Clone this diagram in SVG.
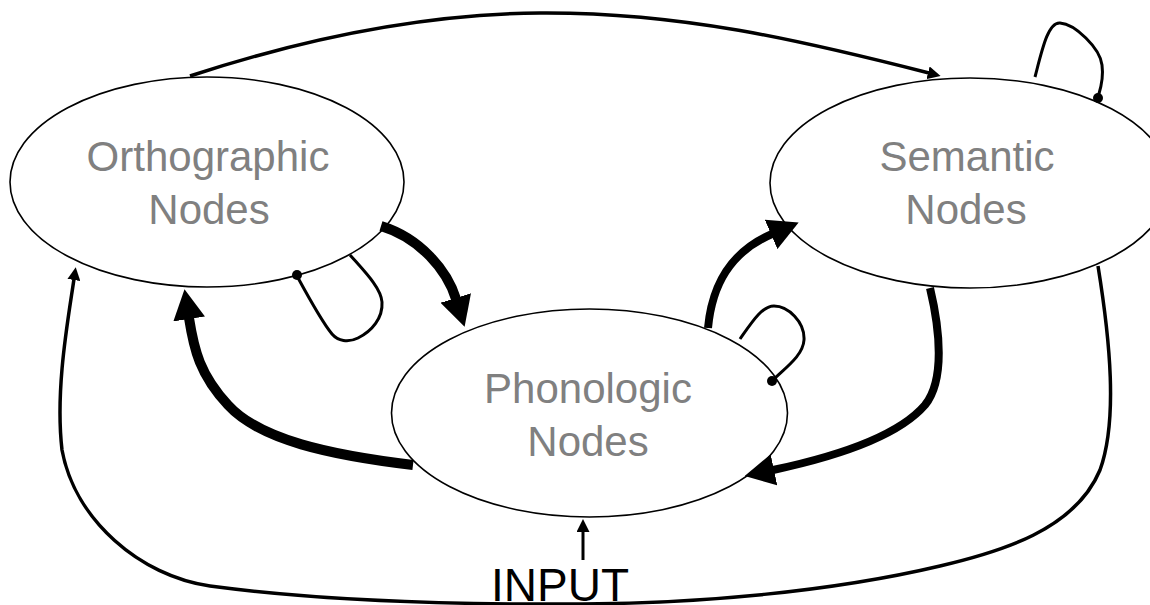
<svg xmlns="http://www.w3.org/2000/svg" width="1150" height="605" viewBox="0 0 1150 605">
<style>
.node{fill:#fff;stroke:#000;stroke-width:1.6}
.lbl{font-family:"Liberation Sans",Arial,sans-serif;font-size:42px;fill:#808080;text-anchor:middle}
.thin{fill:none;stroke:#000;stroke-width:3.5}
.thick{fill:none;stroke:#000;stroke-width:9}
.loop{fill:none;stroke:#000;stroke-width:3}
</style>
<defs>
<marker id="bigArrow" viewBox="0 0 30 32" refX="1" refY="16" markerWidth="30" markerHeight="32" markerUnits="userSpaceOnUse" orient="auto">
<path d="M0,0 L30,16 L0,32 z" fill="#000"/>
</marker>
<marker id="smallArrow" viewBox="0 0 13 13" refX="1" refY="6.5" markerWidth="13" markerHeight="13" markerUnits="userSpaceOnUse" orient="auto">
<path d="M0,0 L13,6.5 L0,13 z" fill="#000"/>
</marker>
</defs>
<g id="orthographic">
<ellipse class="node" cx="207" cy="182" rx="197" ry="105"/>
<text class="lbl" x="208" y="171">Orthographic</text>
<text class="lbl" x="209" y="224">Nodes</text>
</g>
<g id="semantic">
<ellipse class="node" cx="970" cy="183" rx="200" ry="105"/>
<text class="lbl" x="967" y="171">Semantic</text>
<text class="lbl" x="966" y="224">Nodes</text>
</g>
<g id="phonologic">
<ellipse class="node" cx="589.5" cy="413" rx="198" ry="104"/>
<text class="lbl" x="588" y="403">Phonologic</text>
<text class="lbl" x="588" y="456">Nodes</text>
</g>
<g id="input">
<text x="491" y="601" font-family="'Liberation Sans',Arial,sans-serif" font-size="46" fill="#000">INPUT</text>
</g>
<g id="connectors">
<path class="thin" d="M190,76 C300,40 420,14 540,13 C680,12 800,40 929,73" marker-end="url(#smallArrow)"/>
<path class="thin" d="M1098,266 C1110,340 1118,420 1100,470 C1075,530 1000,552 940,566 C830,592 700,603 583,604 C430,605 300,598 210,586 C140,576 75,520 62,450 C55,390 68,320 74,279" marker-end="url(#smallArrow)"/>
<path class="loop" d="M583,560 L583,531" marker-end="url(#smallArrow)"/>
<path class="thick" style="stroke-width:10" d="M381,226 C420,238 447,270 456,299" marker-end="url(#bigArrow)"/>
<path class="thick" style="stroke-width:10" d="M413,465 C330,455 260,440 228,405 C200,375 194,350 189,318" marker-end="url(#bigArrow)"/>
<path class="thick" style="stroke-width:8" d="M708,328 C712,285 730,252 772,234" marker-end="url(#bigArrow)"/>
<path class="thick" style="stroke-width:8" d="M930,288 C940,330 945,380 925,405 C895,440 820,460 773,470" marker-end="url(#bigArrow)"/>
<path class="loop" d="M1035,77 C1042,50 1048,22 1060,23 C1075,24 1100,48 1102,65 C1104,80 1100,90 1098,97"/>
<circle cx="1098" cy="98" r="5"/>
<path class="loop" d="M297,276 C310,300 322,322 332,334 C338,341 348,343 358,338 C372,331 383,318 382,302 C381,288 365,272 350,255"/>
<circle cx="297" cy="275" r="5"/>
<path class="loop" d="M740,339 C752,322 762,306 774,306 C788,306 805,322 804,340 C803,356 785,368 772,381"/>
<circle cx="772" cy="381" r="5"/>
</g>
</svg>
